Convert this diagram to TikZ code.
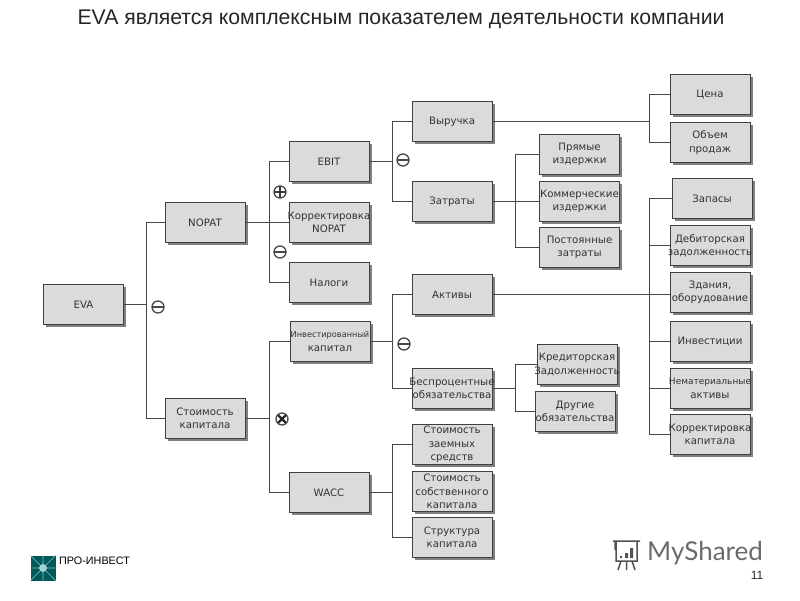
\documentclass[tikz,border=0pt]{standalone}
\usepackage{fontspec}
\setmainfont{DejaVu Sans}
\newfontfamily\titlefont{Liberation Sans}
\newfontfamily\markafont{Lato}
\usetikzlibrary{shadows}
\tikzset{
  blok/.style={draw=black!75, line width=1pt, fill=black!14, minimum width=80pt, minimum height=40pt, inner xsep=-6pt, inner ysep=0pt,
    yshift=0.5pt, align=center, font=\fontsize{10.2}{13.5}\selectfont, text=black!80,
    drop shadow={shadow xshift=2.5pt, shadow yshift=-2.5pt, fill=black!50, opacity=1}},
  spoj/.style={draw=black!72, line width=0.95pt},
  znak/.style={circle, draw=black!72, line width=1.3pt, fill=white, minimum size=12pt, inner sep=0pt},
  minus/.style={znak, path picture={\draw[line width=1.8pt,black!72] (path picture bounding box.west) -- (path picture bounding box.east);}},
  plus/.style={znak, path picture={\draw[line width=1.6pt,black!80] (path picture bounding box.west) -- (path picture bounding box.east) (path picture bounding box.north) -- (path picture bounding box.south);}},
  puta/.style={znak, path picture={\draw[line width=2.4pt,black!85] (path picture bounding box.north west) -- (path picture bounding box.south east) (path picture bounding box.north east) -- (path picture bounding box.south west);}}
}
\begin{document}
\begin{tikzpicture}[x=1pt,y=-1pt]
  \useasboundingbox (0,0) rectangle (800,600);
  \node [font=\titlefont\fontsize{21.2}{23}\selectfont, text=black!85] (naslov) at (401,19) {EVA является комплексным показателем деятельности компании};
  % level 1
  \node [blok] (eva) at (83.5,305) {EVA};
  \node [blok] (nopat) at (205,223) {NOPAT};
  \node [blok] (trosak) at (205,419) {Стоимость\\капитала};
  % level 2
  \node [blok] (ebit) at (329,162) {EBIT};
  \node [blok] (korrn) at (329,223) {Корректировка\\NOPAT};
  \node [blok] (nalogi) at (329,283) {Налоги};
  \node [blok] (invest) at (330,342) {{\fontsize{8.2}{10}\selectfont Инвестированный}\\капитал};
  \node [blok] (wacc) at (329,493) {WACC};
  % level 3
  \node [blok] (vyruchka) at (452,122) {Выручка};
  \node [blok] (zatraty) at (452,202) {Затраты};
  \node [blok] (aktivy) at (452,295) {Активы};
  \node [blok] (bespr) at (452,389) {Беспроцентные\\обязательства};
  \node [blok] (zaem) at (452,445) {Стоимость\\заемных\\средств};
  \node [blok] (sobst) at (452,492) {Стоимость\\собственного\\капитала};
  \node [blok] (strukt) at (452,538) {Структура\\капитала};
  % level 4
  \node [blok] (pryam) at (579.5,155) {Прямые\\издержки};
  \node [blok] (komm) at (579.5,202) {Коммерческие\\издержки};
  \node [blok] (post) at (579.5,248) {Постоянные\\затраты};
  \node [blok] (kred) at (577,365) {Кредиторская\\Задолженность};
  \node [blok] (drug) at (575,412) {Другие\\обязательства};
  % level 5
  \node [blok] (cena) at (710,95) {Цена};
  \node [blok] (obem) at (710,143) {Объем\\продаж};
  \node [blok] (zapas) at (712,199) {Запасы};
  \node [blok] (debit) at (710,246) {Дебиторская\\задолженность};
  \node [blok] (zdan) at (710,293) {Здания,\\оборудование};
  \node [blok] (inv) at (710,342) {Инвестиции};
  \node [blok] (nemat) at (710,389) {{\fontsize{9}{12}\selectfont Нематериальные}\\активы};
  \node [blok] (korrk) at (710,435) {Корректировка\\капитала};
  % connectors
  \draw [spoj] (eva.east) -- ++(22,0) |- (nopat.west);
  \draw [spoj] (eva.east) -- ++(22,0) |- (trosak.west);
  \draw [spoj] (nopat.east) -- (korrn.west);
  \draw [spoj] (nopat.east) -- ++(24,0) |- (ebit.west);
  \draw [spoj] (nopat.east) -- ++(24,0) |- (nalogi.west);
  \draw [spoj] (trosak.east) -- ++(24,0) |- (invest.west);
  \draw [spoj] (trosak.east) -- ++(24,0) |- (wacc.west);
  \draw [spoj] (ebit.east) -- ++(23,0) |- (vyruchka.west);
  \draw [spoj] (ebit.east) -- ++(23,0) |- (zatraty.west);
  \draw [spoj] (invest.east) -- ++(22,0) |- (aktivy.west);
  \draw [spoj] (invest.east) -- ++(22,0) |- (bespr.west);
  \draw [spoj] (wacc.east) -- ++(23,0) |- (zaem.west);
  \draw [spoj] (wacc.east) -- ++(23,0) |- (strukt.west);
  \draw [spoj] (zatraty.east) -- (komm.west);
  \draw [spoj] (zatraty.east) -- ++(23,0) |- (pryam.west);
  \draw [spoj] (zatraty.east) -- ++(23,0) |- (post.west);
  \draw [spoj] (bespr.east) -- ++(23,0) |- (kred.west);
  \draw [spoj] (bespr.east) -- ++(23,0) |- (drug.west);
  \draw [spoj] (vyruchka.east) -- ++(157,0) |- (cena.west);
  \draw [spoj] (vyruchka.east) -- ++(157,0) |- (obem.west);
  \draw [spoj] (aktivy.east) -- (aktivy.east -| zdan.west);
  \draw [spoj] (aktivy.east) -- ++(157,0) |- (zapas.west);
  \draw [spoj] (aktivy.east) -- ++(157,0) |- (debit.west);
  \draw [spoj] (aktivy.east) -- ++(157,0) |- (inv.west);
  \draw [spoj] (aktivy.east) -- ++(157,0) |- (nemat.west);
  \draw [spoj] (aktivy.east) -- ++(157,0) |- (korrk.west);
  % signs
  \node [minus] (m1) at (158,307) {};
  \node [plus] (p1) at (280,192) {};
  \node [minus] (m2) at (280,252) {};
  \node [puta] (x1) at (282,419) {};
  \node [minus] (m3) at (403,160) {};
  \node [minus] (m4) at (404,344) {};
  % footer
  \node [inner sep=0pt, minimum size=25pt, fill=teal!70!black] (logo) at (43,568) {};
  \draw [teal!45!white, line width=0.6pt] (logo.south west) -- (logo.north east) (logo.north west) -- (logo.south east) (logo.north) -- (logo.south) (logo.west) -- (logo.east);
  \fill [teal!35!white] (logo.center) circle (4pt);
  \node [anchor=west, inner sep=0pt, font=\titlefont\fontsize{10.8}{12}\selectfont] (firma) at (59,561) {ПРО-ИНВЕСТ};
  \node [inner sep=0pt, font=\fontsize{12}{14}\titlefont\selectfont, text=black!85] (broj) at (757,575) {11};
  \node [anchor=west, inner sep=0pt, text=black!58, font=\markafont\fontsize{26}{28}\selectfont] (marka) at (647,553) {MyShared};
  % icon beside the watermark
  \draw [black!68, line width=1.5pt] (613,541) -- (640,541) (615,541) -- (615,550) (616,541) rectangle (637,561) (621,561) -- (618,570) (626.5,561) -- (626.5,570) (632,561) -- (635,570);
  \fill [black!68] (620,556) rectangle (622,558) (625,553) rectangle (628,558) (630,548) rectangle (633,558);
\end{tikzpicture}
\end{document}
